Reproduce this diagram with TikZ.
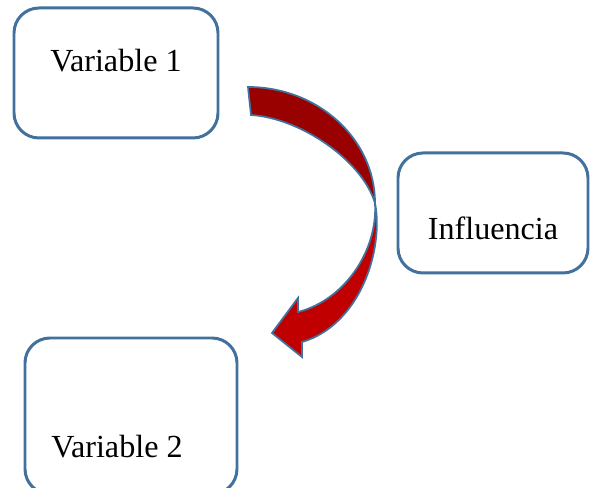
\documentclass[tikz,border=0pt]{standalone}
\usepackage{fontspec}
\setmainfont{Liberation Serif}
\definecolor{borde}{RGB}{65,113,156}
\definecolor{flechaatras}{RGB}{153,0,0}
\definecolor{flechafrente}{RGB}{192,0,0}
\tikzset{
	caja/.style={draw=borde, line width=1.7pt, rounded corners=0.5cm, fill=white},
	texto/.style={font=\fontsize{18.3}{22}\selectfont},
	flecha/.style={draw=borde, line width=1pt}
}

\begin{document}
\begin{tikzpicture}
		\useasboundingbox (0,0) rectangle (11.8,9.76);
		\node[caja, minimum width=4.08cm, minimum height=2.6cm, label={[texto, name=t1, yshift=0.24cm]center:Variable 1}] (var1) at (2.32,8.30) {};
		\node[caja, minimum width=3.8cm, minimum height=2.4cm, label={[texto, name=t2, yshift=-0.30cm]center:Influencia}] (infl) at (9.86,5.50) {};
		\node[caja, minimum width=4.24cm, minimum height=3.12cm, label={[texto, name=t3, xshift=-0.28cm, yshift=-0.62cm]center:Variable 2}] (var2) at (2.62,1.44) {};
		% parte delantera de la flecha curva
		\draw[flecha, fill=flechafrente] (7.50,5.70) .. controls (7.68,4.76) and (7.20,3.26) .. (6.04,2.92) -- (6.04,2.62) -- (5.44,3.10) -- (5.96,3.80) -- (5.96,3.52) .. controls (6.90,3.76) and (7.56,4.76) .. cycle;
		% parte trasera
		\draw[flecha, fill=flechaatras] (4.96,8.02) .. controls (6.36,8.02) and (7.50,6.98) .. (7.50,5.70) .. controls (7.24,6.56) and (6.00,7.40) .. (5.02,7.46) -- cycle;
\end{tikzpicture}
\end{document}
